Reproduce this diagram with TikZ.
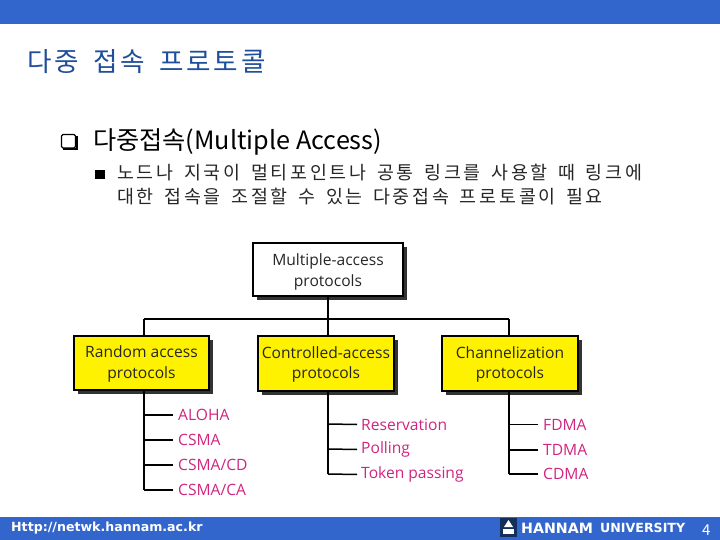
\documentclass[tikz,border=0pt]{standalone}
\usepackage{fontspec}
\setmainfont{Open Sans}
\newfontfamily\krfont{Noto Sans CJK KR}
\newfontfamily\titlekr{Noto Sans CJK KR}[LetterSpace=10,WordSpace=1.7]
\newfontfamily\bodykr{Noto Sans CJK KR}[LetterSpace=15,WordSpace=1.55]
\newfontfamily\barfont{DejaVu Sans}
\definecolor{barblue}{HTML}{3366CC}
\definecolor{titleblue}{HTML}{1F4E9A}
\definecolor{leafpink}{HTML}{D0247F}
\definecolor{boxyellow}{HTML}{FFF200}
\newcommand{\boxlines}[2]{\raisebox{#1}[0pt][0pt]{\begin{tabular}{@{}c@{}}#2\end{tabular}}}
\tikzset{
  x=1pt,y=-1pt,
  protobox/.style={draw=black,line width=1.2pt,align=center,text=black!85,font=\fontsize{15.6}{20.5}\selectfont,inner sep=0pt},
  whitebox/.style={protobox,fill=white},
  yellowbox/.style={protobox,fill=boxyellow},
  boxshadow/.style={fill=black!80},
  trunk/.style={draw=black,line width=1.5pt},
  leaf/.style={anchor=west,text=leafpink,font=\fontsize{15.6}{18}\selectfont,inner sep=0pt},
  bartext/.style={anchor=west,text=white,inner sep=0pt},
}
\begin{document}
\begin{tikzpicture}
\useasboundingbox (0,0) rectangle (720,540);
\fill[barblue] (0,0) rectangle (720,24);
\fill[barblue] (0,517) rectangle (720,540);

\node[anchor=west,inner sep=0pt,text=titleblue] (title) at (27,62)
  {\titlekr\fontsize{26.6}{30}\selectfont 다중 접속 프로토콜};

% bullets
\draw[black,line width=1.1pt,rounded corners=1.5pt] (61.5,134.5) rectangle (75.5,148);
\draw[black,line width=2pt] (63,149) -- (77,149) -- (77,136);
\node[anchor=west,inner sep=0pt] (head) at (93,142)
  {\krfont\fontsize{25.2}{30}\selectfont 다중접속(Multiple Access)};
\fill[black] (95,170) rectangle (105,179);
\node[anchor=west,inner sep=0pt,text=black!85] (l1) at (117,173)
  {\bodykr\fontsize{18.4}{24}\selectfont 노드나 지국이 멀티포인트나 공통 링크를 사용할 때 링크에};
\node[anchor=west,inner sep=0pt,text=black!85] (l2) at (117,197)
  {\bodykr\fontsize{18.4}{24}\selectfont 대한 접속을 조절할 수 있는 다중접속 프로토콜이 필요};

% shadows
\fill[boxshadow] (256.5,246.5) rectangle (406.5,299.5);
\fill[boxshadow] (77.5,339.5) rectangle (213,394);
\fill[boxshadow] (261.5,339.5) rectangle (398,394.5);
\fill[boxshadow] (445.5,339.5) rectangle (582,394.5);

% named junctions
\coordinate (hleft) at (144,319);
\coordinate (hmid) at (328,319);
\coordinate (hright) at (509,319);
\coordinate (a0) at (144,391);
\coordinate (a1) at (144,415);
\coordinate (a2) at (144,440);
\coordinate (a3) at (144,465);
\coordinate (a4) at (144,490);
\coordinate (b0) at (328,392);
\coordinate (b1) at (328,424);
\coordinate (b2) at (328,449);
\coordinate (b3) at (328,474);
\coordinate (c0) at (509,392);
\coordinate (c1) at (509,424.5);
\coordinate (c2) at (509,450);
\coordinate (c3) at (509,474);

\node[whitebox,minimum width=150pt,minimum height=53pt] (root) at (328,269.5) {\boxlines{-5.5pt}{Multiple-access\\[0.5pt]protocols}};
\node[yellowbox,minimum width=135pt,minimum height=54pt] (rand) at (141.5,363) {\boxlines{-4.5pt}{Random access\\protocols}};
\node[yellowbox,minimum width=136pt,minimum height=55pt] (ctrl) at (326,363.5) {\boxlines{-4.5pt}{Controlled-access\\protocols}};
\node[yellowbox,minimum width=136pt,minimum height=55pt] (chan) at (510,363.5) {\boxlines{-4.5pt}{Channelization\\protocols}};

% leaf labels
\node[leaf] (aloha) at (178,415) {ALOHA};
\node[leaf] (csma) at (178,440) {CSMA};
\node[leaf] (cd) at (178,465) {CSMA/CD};
\node[leaf] (ca) at (178,490) {CSMA/CA};
\node[leaf] (res) at (361,424.5) {Reservation};
\node[leaf] (poll) at (361,449.5) {Polling};
\node[leaf] (tok) at (361,474.5) {Token passing};
\node[leaf] (fdma) at (543,424.5) {FDMA};
\node[leaf] (tdma) at (543,450) {TDMA};
\node[leaf] (cdma) at (543,474) {CDMA};

% connectors
\draw[trunk] (root.south) -- (root.south |- hmid);
\draw[trunk] (hleft) -- (hright);
\draw[trunk] (hmid) -- (hmid |- ctrl.north);
\draw[trunk] (hleft) -- (hleft |- rand.north);
\draw[trunk] (hright) -- (hright |- chan.north);
\draw[trunk] (a0) -- (a4);
\draw[trunk] (b0) -- (b3);
\draw[trunk] (c0) -- (c3);
\draw[trunk] (a1) -- ([xshift=-5pt]aloha.west);
\draw[trunk] (a2) -- ([xshift=-5pt]csma.west);
\draw[trunk] (a3) -- ([xshift=-5pt]cd.west);
\draw[trunk] (a4) -- ([xshift=-5pt]ca.west);
\draw[trunk] (b1) -- ([xshift=-4pt]res.west);
\draw[trunk] (b2) -- ([xshift=-4pt]poll.west);
\draw[trunk] (b3) -- ([xshift=-4pt]tok.west);
\draw[trunk] (c1) -- ([xshift=-5pt]fdma.west);
\draw[trunk] (c2) -- ([xshift=-5pt]tdma.west);
\draw[trunk] (c3) -- ([xshift=-5pt]cdma.west);

% footer
\node[bartext,font=\barfont\bfseries\fontsize{12.6}{14}\selectfont] (url) at (11,528) {Http://netwk.hannam.ac.kr};
\fill[titleblue!60!black] (500,518) rectangle (517,537);
\fill[white] (508.5,520) -- (513,527) -- (504,527) -- cycle;
\fill[white] (503,529) rectangle (514,534);
\node[bartext,font=\barfont\bfseries\fontsize{14.2}{15}\selectfont] (uni) at (521,528) {HANNAM};
\node[bartext,font=\barfont\bfseries\fontsize{12.6}{15}\selectfont] (uni2) at (600,528) {UNIVERSITY};
\node[bartext,font=\krfont\fontsize{15}{16}\selectfont] (page) at (702,530) {4};
\end{tikzpicture}
\end{document}
